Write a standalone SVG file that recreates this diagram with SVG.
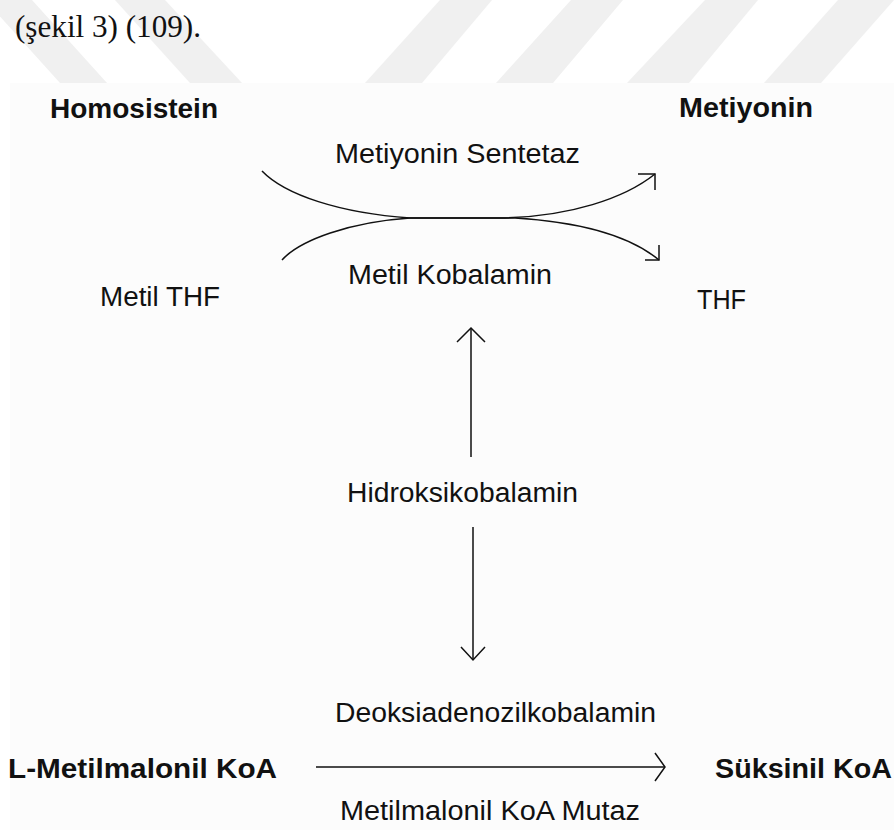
<svg xmlns="http://www.w3.org/2000/svg" width="894" height="830" viewBox="0 0 894 830">
  <style>
    .lbl { font-family: "Liberation Sans", Arial, sans-serif; font-size: 27px; fill: #111; }
    .bold { font-weight: bold; }
    .cap { font-family: "Liberation Serif", "Times New Roman", serif; font-size: 31px; fill: #111; }
    .ln { fill: none; stroke: #111; stroke-width: 1.5; }
    .stripe { fill: #f0f0f0; }
  </style>
  <rect x="0" y="0" width="894" height="830" fill="#ffffff"/>
  <g id="watermark">
    <polygon class="stripe" points="-15,0 32,0 107,83 60,83"/>
    <polygon class="stripe" points="115,0 165,0 242,83 190,83"/>
    <polygon class="stripe" points="440,0 492,0 422,83 365,83"/>
    <polygon class="stripe" points="571,0 623,0 553,83 496,83"/>
    <polygon class="stripe" points="705,0 758,0 689,83 627,83"/>
    <polygon class="stripe" points="838,0 894,0 821,83 764,83"/>
  </g>
  <text class="cap" x="15" y="37" textLength="186" lengthAdjust="spacingAndGlyphs">(şekil 3) (109).</text>
  <rect x="10" y="83" width="884" height="747" fill="#fcfcfc"/>

  <g id="connectors">
    <path class="ln" d="M262,171 C285,195 340,213 410,218 L500,218 C570,217 625,198 655,174"/>
    <polyline class="ln" points="638,174 655,174 655,190"/>
    <path class="ln" d="M282,260 C300,240 350,222 410,218 L515,218 C580,222 630,236 659,260"/>
    <polyline class="ln" points="645,260 659,260 659,245"/>
    <line class="ln" x1="471" y1="328" x2="471" y2="457"/>
    <polyline class="ln" points="457,342 471,328 485,342"/>
    <line class="ln" x1="473" y1="527" x2="473" y2="660"/>
    <polyline class="ln" points="461,647 473,660 485,647"/>
    <line class="ln" x1="316" y1="767" x2="665" y2="767"/>
    <polyline class="ln" points="655,753 665,767 655,781"/>
  </g>

  <g id="homosistein"><text class="lbl bold" x="50" y="118" textLength="168" lengthAdjust="spacingAndGlyphs">Homosistein</text></g>
  <g id="metiyonin"><text class="lbl bold" x="679" y="117" textLength="134" lengthAdjust="spacingAndGlyphs">Metiyonin</text></g>
  <g id="metiyonin-sentetaz"><text class="lbl" x="335" y="163" textLength="245" lengthAdjust="spacingAndGlyphs">Metiyonin Sentetaz</text></g>
  <g id="metil-kobalamin"><text class="lbl" x="348" y="284" textLength="204" lengthAdjust="spacingAndGlyphs">Metil Kobalamin</text></g>
  <g id="metil-thf"><text class="lbl" x="100" y="306" textLength="120" lengthAdjust="spacingAndGlyphs">Metil THF</text></g>
  <g id="thf"><text class="lbl" x="697" y="309" textLength="49" lengthAdjust="spacingAndGlyphs">THF</text></g>
  <g id="hidroksikobalamin"><text class="lbl" x="347" y="502" textLength="231" lengthAdjust="spacingAndGlyphs">Hidroksikobalamin</text></g>
  <g id="deoksiadenozilkobalamin"><text class="lbl" x="335" y="722" textLength="321" lengthAdjust="spacingAndGlyphs">Deoksiadenozilkobalamin</text></g>
  <g id="l-metilmalonil-koa"><text class="lbl bold" x="8" y="778" font-size="29" textLength="269" lengthAdjust="spacingAndGlyphs">L-Metilmalonil KoA</text></g>
  <g id="suksinil-koa"><text class="lbl bold" x="715" y="778" font-size="29" textLength="177" lengthAdjust="spacingAndGlyphs">Süksinil KoA</text></g>
  <g id="metilmalonil-koa-mutaz"><text class="lbl" x="340" y="820" font-size="29" textLength="300" lengthAdjust="spacingAndGlyphs">Metilmalonil KoA Mutaz</text></g>
</svg>
